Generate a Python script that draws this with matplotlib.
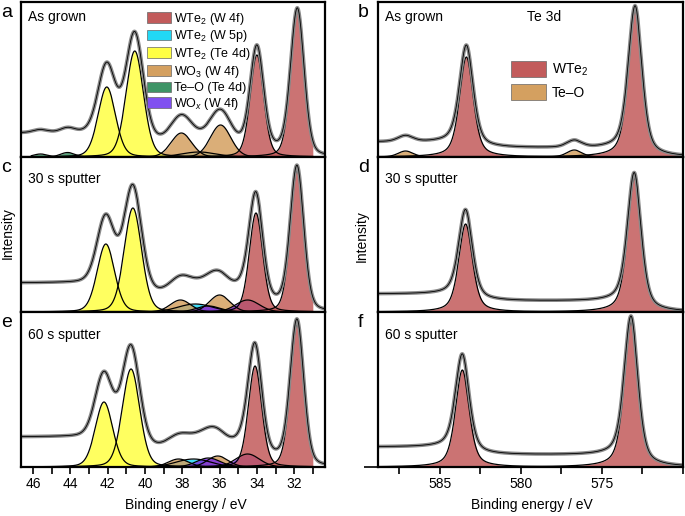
import numpy as np
import matplotlib.pyplot as plt
from matplotlib.patches import Patch
from matplotlib.ticker import MultipleLocator, FixedLocator

plt.rcParams['font.family'] = ['Liberation Sans', 'DejaVu Sans']
plt.rcParams['mathtext.fontset'] = 'custom'
plt.rcParams['mathtext.rm'] = 'Liberation Sans'
plt.rcParams['mathtext.it'] = 'Liberation Sans:italic'

# ---- W 4f / Te 4d region (left column), one entry per panel a, c, e ----
left_titles = ['As grown', '30 s sputter', '60 s sputter']
w4f_pos = [[31.83, 34.0], [31.85, 34.05], [31.85, 34.1]]
w4f_height = [[145, 102], [142, 99], [143, 101]]
te4d_pos = [[40.55, 42.05], [40.65, 42.1], [40.75, 42.2]]
te4d_height = [[106, 70], [104, 68], [98, 65]]
wo3_pos = [[35.95, 38.05], [36.0, 38.1], [36.1, 38.2]]
wo3_height = [[32, 24], [17, 12], [11, 8]]
w5p_pos = [[37.1], [37.3], [37.4]]
w5p_height = [[5], [8], [8]]
teo4d_pos = [[44.15, 45.6], [], []]
teo4d_height = [[4.5, 3], [], []]
wox_pos = [[], [34.5, 36.6], [34.5, 36.6]]
wox_height = [[], [12, 6], [13, 9]]
bg_left = [24, 29, 30]

# ---- Te 3d region (right column), panels b, d, f ----
right_titles = ['As grown', '30 s sputter', '60 s sputter']
te3d_pos = [[572.95, 583.35], [573.0, 583.4], [573.2, 583.6]]
te3d_height = [[147, 100], [134, 88], [145, 97]]
teo3d_pos = [[576.7, 587.1], [], []]
teo3d_height = [[7, 6], [], []]
bg_right = [15, 18, 20]
right_ticks = [585, 580, 575]

# colours
c_red = '#C25B5B'
c_cyan = '#22D8F5'
c_yellow = '#FFFF44'
c_tan = '#D4A060'
c_green = '#3E9466'
c_purple = '#7A2EE0'


def pv(x, c, h, w, eta=0.5):
    d = (x - c) / w
    return h * (eta / (1 + 4 * d**2) + (1 - eta) * np.exp(-4 * np.log(2) * d**2))


def draw(ax, x, comps, bg_hi, lo, hi):
    total = sum(y for y, col in comps)
    cum = np.cumsum(total)
    bg = bg_hi * cum / cum[-1]
    data = total + bg
    m = (x >= lo) & (x <= hi)
    for y, col in comps:
        ax.fill_between(x[m], 0, y[m], color=col, alpha=0.85, lw=0)
        ax.plot(x[m], y[m], color='k', lw=0.9)
    ax.plot(x, data, color='#8a8a8a', lw=2.6, solid_capstyle='butt')
    ax.plot(x, data, color='k', lw=0.6)


fig = plt.figure(figsize=(6.85, 5.16), dpi=100)
W, H = 685.0, 516.0
bottoms = [157, 312, 467]
letters_l = ['a', 'c', 'e']
letters_r = ['b', 'd', 'f']

xl = np.linspace(30.0, 47.0, 3000)
xr = np.linspace(569.0, 590.0, 3000)

for i in range(3):
    # left panel
    ax = fig.add_axes([21 / W, 1 - bottoms[i] / H, 304 / W, 155 / H])
    comps = []
    for c, h in zip(w5p_pos[i], w5p_height[i]):
        comps.append((pv(xl, c, h, 2.2, 0.0), c_cyan))
    for c, h in zip(teo4d_pos[i], teo4d_height[i]):
        comps.append((pv(xl, c, h, 0.9, 0.1), c_green))
    for c, h in zip(wo3_pos[i], wo3_height[i]):
        comps.append((pv(xl, c, h, 1.3, 0.1), c_tan))
    for c, h in zip(wox_pos[i], wox_height[i]):
        comps.append((pv(xl, c, h, 1.5, 0.1), c_purple))
    for c, h in zip(te4d_pos[i][::-1], te4d_height[i][::-1]):
        comps.append((pv(xl, c, h, 1.1, 0.2), c_yellow))
    for c, h in zip(w4f_pos[i][::-1], w4f_height[i][::-1]):
        comps.append((pv(xl, c, h, 0.85, 0.25), c_red))
    draw(ax, xl, comps, bg_left[i], 31.0, 46.1)
    ax.set_xlim(46.65, 30.35)
    ax.set_ylim(0, 155)
    ax.xaxis.set_major_locator(MultipleLocator(2))
    ax.xaxis.set_minor_locator(MultipleLocator(1))
    ax.set_yticks([])
    ax.tick_params(which='both', direction='out', length=5, width=1.2,
                   labelsize=10, labelbottom=(i == 2), pad=2)
    for s in ax.spines.values():
        s.set_linewidth(1.6)
    ax.text(0.023, 0.95 if i == 0 else 0.9, left_titles[i], transform=ax.transAxes,
            fontsize=10, va='top', ha='left')
    if i == 0:
        handles = [Patch(fc=c_red, ec='#666666', lw=0.5),
                   Patch(fc=c_cyan, ec='#666666', lw=0.5),
                   Patch(fc=c_yellow, ec='#666666', lw=0.5),
                   Patch(fc=c_tan, ec='#666666', lw=0.5),
                   Patch(fc=c_green, ec='#666666', lw=0.5),
                   Patch(fc='#8050F0', ec='#666666', lw=0.5)]
        labels = ['WTe$_2$ (W 4f)', 'WTe$_2$ (W 5p)', 'WTe$_2$ (Te 4d)',
                  'WO$_3$ (W 4f)', 'Te\u2013O (Te 4d)', 'WO$_x$ (W 4f)']
        ax.legend(handles, labels, loc='upper left', bbox_to_anchor=(0.415, 0.945),
                  frameon=False, fontsize=9, handlelength=1.9, handleheight=0.95,
                  handletextpad=0.25, labelspacing=0.14, borderpad=0, borderaxespad=0)
    fig.text(1 / W, 1 - (bottoms[i] - 140) / H, letters_l[i], fontsize=14, va='baseline')

    # right panel
    ax = fig.add_axes([378 / W, 1 - bottoms[i] / H, 305 / W, 155 / H])
    comps = []
    for c, h in zip(teo3d_pos[i], teo3d_height[i]):
        comps.append((pv(xr, c, h, 1.1, 0.3), c_tan))
    for c, h in zip(te3d_pos[i], te3d_height[i]):
        comps.append((pv(xr, c, h, 1.0, 0.5), c_red))
    draw(ax, xr, comps, bg_right[i], 569.0, 590.0)
    ax.set_xlim(588.8, 570.0)
    ax.set_ylim(0, 155)
    ax.xaxis.set_major_locator(FixedLocator(right_ticks))
    ax.xaxis.set_minor_locator(MultipleLocator(2.5))
    if i == 2:
        ax.set_yticks([0])
        ax.set_yticklabels([''])
        ax.tick_params(axis='y', direction='out', length=10, width=1.2)
    else:
        ax.set_yticks([])
    ax.tick_params(axis='x', which='both', direction='out', length=5, width=1.2,
                   labelsize=10, labelbottom=(i == 2), pad=2)
    for s in ax.spines.values():
        s.set_linewidth(1.6)
    ax.text(0.023, 0.95 if i == 0 else 0.9, right_titles[i], transform=ax.transAxes,
            fontsize=10, va='top', ha='left')
    if i == 0:
        ax.text(0.546, 0.95, 'Te 3d', transform=ax.transAxes, fontsize=10,
                va='top', ha='center')
        handles = [Patch(fc=c_red, ec='#666666', lw=0.5),
                   Patch(fc=c_tan, ec='#666666', lw=0.5)]
        ax.legend(handles, ['WTe$_2$', 'Te\u2013O'], loc='upper left',
                  bbox_to_anchor=(0.4375, 0.62), frameon=False, fontsize=10,
                  handlelength=2.5, handleheight=1.4, handletextpad=0.4,
                  labelspacing=0.45, borderpad=0, borderaxespad=0)
    fig.text(358 / W, 1 - (bottoms[i] - 140) / H, letters_r[i], fontsize=14, va='baseline')

fig.text(8 / W, 1 - 233 / H, 'Intensity', rotation=90, fontsize=10, ha='center', va='center')
fig.text(362 / W, 1 - 236 / H, 'Intensity', rotation=90, fontsize=10, ha='center', va='center')
fig.text(186 / W, 1 - 505 / H, 'Binding energy / eV', fontsize=10, ha='center', va='center')
fig.text(532 / W, 1 - 505 / H, 'Binding energy / eV', fontsize=10, ha='center', va='center')

fig.savefig('out.png', dpi=100)
